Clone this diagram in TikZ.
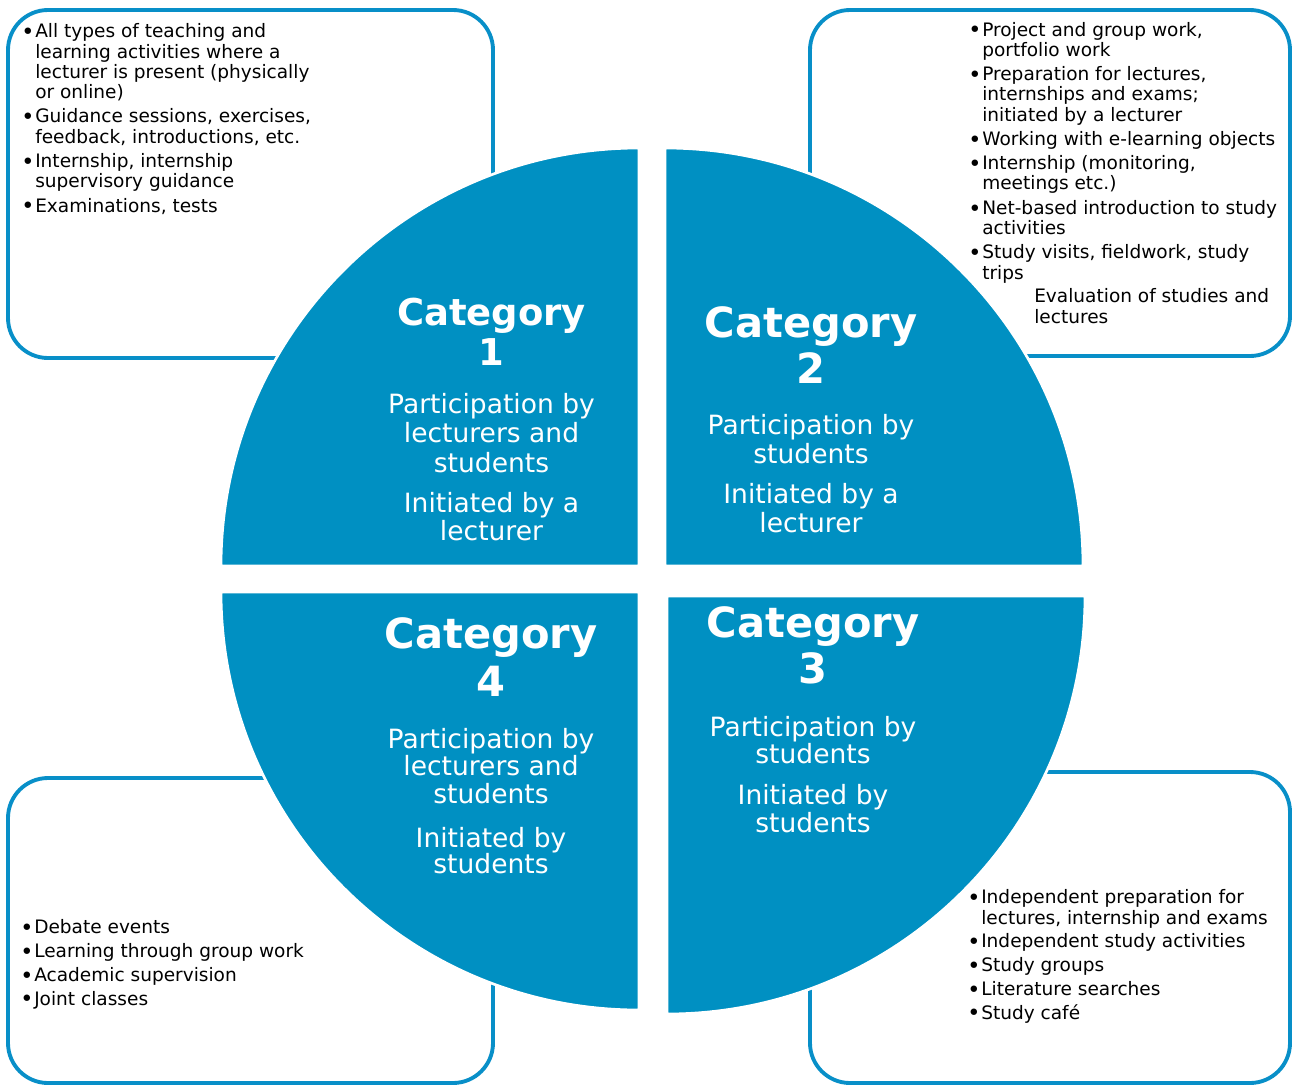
\documentclass[tikz,border=0pt]{standalone}
\usepackage{fontspec}
\setmainfont{DejaVu Sans}
\definecolor{qblue}{RGB}{0,144,194}
\definecolor{lblue}{RGB}{8,143,200}
\tikzset{
  quad/.style={fill=qblue, draw=white, line width=2pt},
  bbox/.style={draw=lblue, line width=2.9pt, rounded corners=30pt},
  blist/.style={anchor=base west, align=left, inner sep=0pt, font=\fontsize{13.9}{15.2}\selectfont},
  ttl/.style={anchor=base, align=center, inner sep=0pt, text=white, font=\bfseries\fontsize{31.2}{34.5}\selectfont},
  dsc/.style={anchor=base, align=center, inner sep=0pt, text=white, font=\fontsize{19.9}{21.4}\selectfont},
}
\newcommand\bl{\makebox[0pt][r]{\raisebox{-1.4pt}{\scalebox{1.2}{•}}\hspace{0.6pt}}}
\begin{document}
\begin{tikzpicture}[x=0.75pt,y=-0.75pt]
\useasboundingbox (0,0) rectangle (1293,1086);
% boxes
\draw[bbox] (8,10) rectangle (493,358);
\draw[bbox] (810,10) rectangle (1290,356);
\draw[bbox] (8,778) rectangle (493,1083);
\draw[bbox] (810,772) rectangle (1290,1083);
% quadrants
\draw[quad] (221,566) arc[start angle=180,end angle=270,radius=418] -- (639,566) -- cycle;
\draw[quad] (665,148) arc[start angle=270,end angle=360,radius=418] -- (665,566) -- cycle;
\draw[quad] (1085,596) arc[start angle=0,end angle=90,radius=418] -- (667,596) -- cycle;
\draw[quad] (639,1010) arc[start angle=90,end angle=180,radius=418] -- (639,592) -- cycle;
% box texts (anchored at the baseline of the last line)
\node[blist] (b1) at (35,212) {\bl All types of teaching and\\ learning activities where a\\ lecturer is present (physically\\ or online)\\[3pt]
\bl Guidance sessions, exercises,\\ feedback, introductions, etc.\\[3pt]
\bl Internship, internship\\ supervisory guidance\\[3pt]
\bl Examinations, tests};
\node[blist] (b2) at (982,279) {\bl Project and group work,\\ portfolio work\\[3pt]
\bl Preparation for lectures,\\ internships and exams;\\ initiated by a lecturer\\[3pt]
\bl Working with e-learning objects\\[3pt]
\bl Internship (monitoring,\\ meetings etc.)\\[3pt]
\bl Net-based introduction to study\\ activities\\[3pt]
\bl Study visits, fieldwork, study\\ trips};
\node[blist] (b2e) at (1034,323) {Evaluation of studies and\\ lectures};
\node[blist] (b3) at (34,1005) {\bl Debate events\\[2.6pt]
\bl Learning through group work\\[2.6pt]
\bl Academic supervision\\[2.6pt]
\bl Joint classes};
\node[blist] (b4) at (981,1019) {\bl Independent preparation for\\ lectures, internship and exams\\[2.6pt]
\bl Independent study activities\\[2.6pt]
\bl Study groups\\[2.6pt]
\bl Literature searches\\[2.6pt]
\bl Study café};
% quadrant texts (anchored at the baseline of the last line)
\node[ttl, font=\bfseries\fontsize{27.7}{30}\selectfont] (t1) at (491.5,365) {Category\\1};
\node[dsc, font=\fontsize{19.9}{22.1}\selectfont] (d1a) at (491.5,472) {Participation by\\lecturers and\\students};
\node[dsc, font=\fontsize{19.9}{21}\selectfont] (d1b) at (491.5,540) {Initiated by a\\lecturer};
\node[ttl] (t2) at (811,383) {Category\\2};
\node[dsc] (d2a) at (811,463) {Participation by\\students};
\node[dsc] (d2b) at (811,532) {Initiated by a\\lecturer};
\node[ttl] (t3) at (813,683) {Category\\3};
\node[dsc, font=\fontsize{19.9}{20}\selectfont] (d3a) at (813,763) {Participation by\\students};
\node[dsc, font=\fontsize{19.9}{20.3}\selectfont] (d3b) at (813,832) {Initiated by\\students};
\node[ttl, font=\bfseries\fontsize{31.2}{36}\selectfont] (t4) at (491,696) {Category\\4};
\node[dsc, font=\fontsize{19.9}{20.6}\selectfont] (d4a) at (491,803) {Participation by\\lecturers and\\students};
\node[dsc, font=\fontsize{19.9}{19.5}\selectfont] (d4b) at (491,873) {Initiated by\\students};
\end{tikzpicture}
\end{document}
